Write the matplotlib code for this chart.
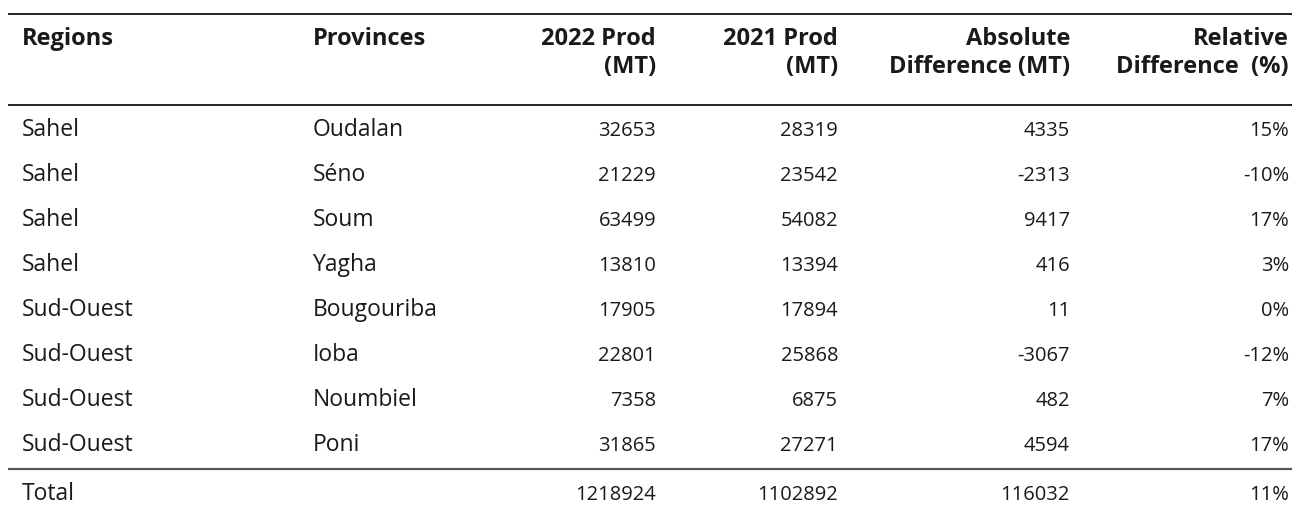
import matplotlib
matplotlib.use("Agg")
import matplotlib.pyplot as plt

# Table data
regions = ["Sahel", "Sahel", "Sahel", "Sahel",
           "Sud-Ouest", "Sud-Ouest", "Sud-Ouest", "Sud-Ouest"]
provinces = ["Oudalan", "Séno", "Soum", "Yagha",
             "Bougouriba", "Ioba", "Noumbiel", "Poni"]
prod_2022 = [32653, 21229, 63499, 13810, 17905, 22801, 7358, 31865]
prod_2021 = [28319, 23542, 54082, 13394, 17894, 25868, 6875, 27271]
abs_diff = [4335, -2313, 9417, 416, 11, -3067, 482, 4594]
rel_diff = [15, -10, 17, 3, 0, -12, 7, 17]
total = ["Total", "", 1218924, 1102892, 116032, 11]

headers = [("Regions", ""), ("Provinces", ""), ("2022 Prod", "(MT)"),
           ("2021 Prod", "(MT)"), ("Absolute", "Difference (MT)"),
           ("Relative", "Difference  (%)")]

# layout (pixel coords, text placed on baselines)
W, H = 1298, 509
col_x = [22, 313, 656, 838, 1070, 1289]
col_ha = ["left", "left", "right", "right", "right", "right"]
col_fs = [16.5, 16.5, 14.5, 14.5, 14.5, 14.5]
row_y0, row_dy = 136, 45
ink = "#1a1a1a"
font = "Open Sans"

fig = plt.figure(figsize=(W / 100, H / 100), dpi=100)
ax = fig.add_axes([0, 0, 1, 1])
ax.set_xlim(0, W)
ax.set_ylim(H, 0)
ax.axis("off")

# header
for (l1, l2), x, ha in zip(headers, col_x, col_ha):
    ax.text(x, 45, l1, ha=ha, va="baseline", fontsize=17, fontweight="bold",
            color=ink, family=font)
    if l2:
        ax.text(x, 73, l2, ha=ha, va="baseline", fontsize=17,
                fontweight="bold", color=ink, family=font)

# body rows
rows = list(zip(regions, provinces, prod_2022, prod_2021, abs_diff,
                [f"{v}%" for v in rel_diff]))
rows.append(tuple(total[:5]) + (f"{total[5]}%",))
for i, row in enumerate(rows):
    y = row_y0 + i * row_dy
    if i == len(rows) - 1:
        y += 4
    for val, x, ha, fs in zip(row, col_x, col_ha, col_fs):
        ax.text(x, y, str(val), ha=ha, va="baseline", fontsize=fs,
                color=ink, family=font)

# rules
ax.plot([8, 1292], [14, 14], color="#111111", lw=1.3, solid_capstyle="butt")
ax.plot([8, 1292], [105, 105], color="#111111", lw=1.3, solid_capstyle="butt")
ax.plot([8, 1292], [469, 469], color="#555555", lw=1.6, solid_capstyle="butt")

fig.savefig("out.png", dpi=100)
